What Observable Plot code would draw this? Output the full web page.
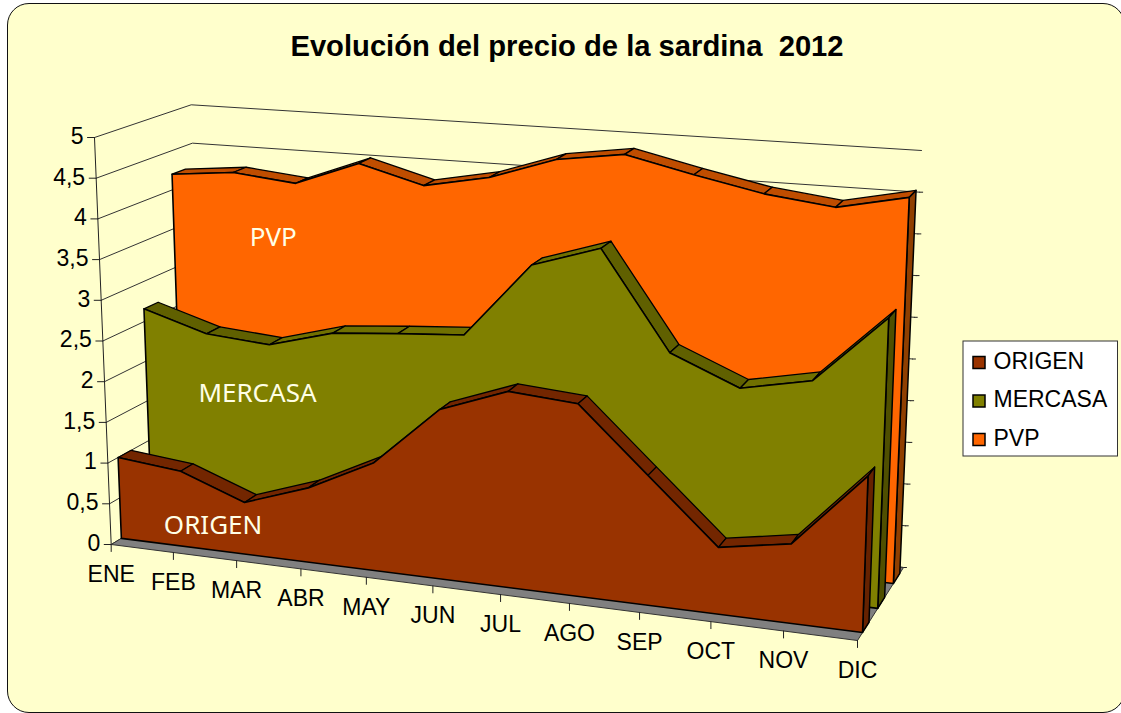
<!DOCTYPE html>
<html><head><meta charset="utf-8">
<script src="https://cdn.jsdelivr.net/npm/d3@7"></script>
<script src="https://cdn.jsdelivr.net/npm/@observablehq/plot@0.6"></script>
<style>
html,body{margin:0;padding:0;background:#fff;width:1121px;height:713px;overflow:hidden}
#panel{position:absolute;left:7px;top:3px;width:1116px;height:708px;background:#FFFFCC;border:1.5px solid #111;border-radius:22px}
#chart{position:absolute;left:0;top:0}
svg{background:transparent!important;font-family:"Liberation Sans",Arial,sans-serif}
</style></head><body>
<div id="panel"></div><div id="chart"></div>
<script>
const months = ["ENE","FEB","MAR","ABR","MAY","JUN","JUL","AGO","SEP","OCT","NOV","DIC"];
const origen  = [1.00,0.92,0.63,0.90,1.29,2.02,2.32,2.26,1.51,0.77,0.91,1.78];
const mercasa = [2.66,2.42,2.36,2.58,2.65,2.71,3.63,3.90,2.73,2.39,2.56,3.37];
const pvp     = [4.20,4.28,4.20,4.51,4.29,4.45,4.73,4.85,4.66,4.49,4.39,4.57];
const valueTicks = [0,0.5,1,1.5,2,2.5,3,3.5,4,4.5,5];
const seriesNames = ["ORIGEN","MERCASA","PVP"];
const seriesColors = ["#993300","#808000","#FF6600"];
const stripColors  = ["#732600","#606000","#BF4D00"];
const stripRiseColors = ["#732600","#707000","#BF4D00"];
const sideColors   = ["#662200","#4F4F00","#8F3F00"];
const depthFront = [0.11,0.44,0.78];
const depthBack  = [0.25,0.59,0.92];
const seriesLabelMonth = [0.70,0.84,1.24];
const seriesLabelValue = [0.225,1.66,3.46];

// view of the 3D box: floor and ceiling corners [x,y] as seen on screen
const floorBox = {fl:[110.7,544],fr:[857,640],bl:[203,488],br:[903,567]};
const ceilBox  = {fl:[94,137],fr:[872,198],bl:[190.7,104.3],br:[921,150]};
const warp = t => t/(t+1.1*(1-t));
const lerp = (a,b,k)=>a+(b-a)*k;
const bil = (B,t,d,i)=>lerp(lerp(B.fl[i],B.fr[i],t),lerp(B.bl[i],B.br[i],t),d);
function project(m,d,v){
  const t=warp(m/11), k=v/5;
  return {x:lerp(bil(floorBox,t,d,0),bil(ceilBox,t,d,0),k), y:lerp(bil(floorBox,t,d,1),bil(ceilBox,t,d,1),k)};
}
const X=p=>p.x, Y=p=>p.y;
const poly=(pts,fill,stroke="#000",w=1.3)=>Plot.line([...pts,pts[0]],{x:X,y:Y,fill,stroke,strokeWidth:w,strokeLinejoin:"round"});
const seg=(a,b,stroke="#222",w=1)=>Plot.line([a,b],{x:X,y:Y,stroke,strokeWidth:w});
const marks=[];

// grid on left and back walls
for(const v of valueTicks){
  const a=project(0,0,v), b=project(0,1,v), c=project(11,1,v);
  marks.push(Plot.line([a,b,c],{x:X,y:Y,stroke:"#333",strokeWidth:1}));
  marks.push(seg({x:a.x-7,y:a.y},a));
  if(v<=4.5) marks.push(seg(c,{x:c.x+3,y:c.y}));
}
marks.push(seg(project(0,0,0),project(0,0,5)));
// floor
marks.push(poly([project(0,0,0),project(11,0,0),project(11,1,0),project(0,1,0)],"#808080","#333",1));

// series back to front
[[pvp,2],[mercasa,1],[origen,0]].forEach(([vals,s])=>{
  const f=depthFront[s], b=depthBack[s];
  for(let i=0;i<11;i++){
    const col = vals[i+1]>vals[i] ? stripRiseColors[s] : stripColors[s];
    marks.push(poly([project(i,f,vals[i]),project(i+1,f,vals[i+1]),project(i+1,b,vals[i+1]),project(i,b,vals[i])],col,"#000",1.3));
  }
  marks.push(poly([project(11,f,vals[11]),project(11,b,vals[11]),project(11,b,0),project(11,f,0)],sideColors[s],"#000",1.5));
  const front=[project(0,f,0),...vals.map((v,i)=>project(i,f,v)),project(11,f,0)];
  marks.push(poly(front,seriesColors[s],"#000",1.6));
});

// month ticks and labels
months.forEach((name,i)=>{
  const p=project(i,0,0);
  marks.push(seg(p,{x:p.x,y:p.y+7}));
});
marks.push(Plot.text(months,{x:(d,i)=>project(i,0,0).x,y:(d,i)=>project(i,0,0).y+30,text:d=>d,fontSize:23,fill:"#000",textAnchor:"middle"}));
marks.push(Plot.text(valueTicks,{x:d=>project(0,0,d).x-11,y:d=>project(0,0,d).y-1,text:d=>String(d).replace(".",","),fontSize:23,fill:"#000",textAnchor:"end"}));

// series names on the faces
marks.push(Plot.text(seriesNames,{x:(d,i)=>project(seriesLabelMonth[i],depthFront[i],seriesLabelValue[i]).x,y:(d,i)=>project(seriesLabelMonth[i],depthFront[i],seriesLabelValue[i]).y,text:d=>d,fontFamily:"Noto Sans",fontSize:26,fill:"#FFFFE6",textAnchor:"start"}));

// title
marks.push(Plot.text(["Evolución del precio de la sardina\u00A0 2012"],{x:()=>566.5,y:()=>46,text:d=>d,fontSize:29.2,fontWeight:"bold",fill:"#000"}));

// legend
marks.push(Plot.rect([0],{x1:()=>963,x2:()=>1117.5,y1:()=>341,y2:()=>456,fill:"#fff",stroke:"#333",strokeWidth:1}));
seriesNames.forEach((n,i)=>{
  const cy=362.5+i*38.5;
  marks.push(Plot.rect([n],{x1:()=>973,x2:()=>985,y1:()=>cy-6,y2:()=>cy+6,fill:seriesColors[i],stroke:"#000",strokeWidth:1.5}));
  marks.push(Plot.text([n],{x:()=>993,y:()=>cy-1.5,text:d=>d,fontSize:23,fill:"#000",textAnchor:"start"}));
});

const chart=Plot.plot({width:1121,height:713,margin:0,
  x:{domain:[0,1121],range:[0,1121],axis:null},
  y:{domain:[0,713],range:[0,713],axis:null},
  style:{background:"transparent",fontFamily:"Liberation Sans"},
  marks});
document.getElementById("chart").appendChild(chart);
</script>
</body></html>
